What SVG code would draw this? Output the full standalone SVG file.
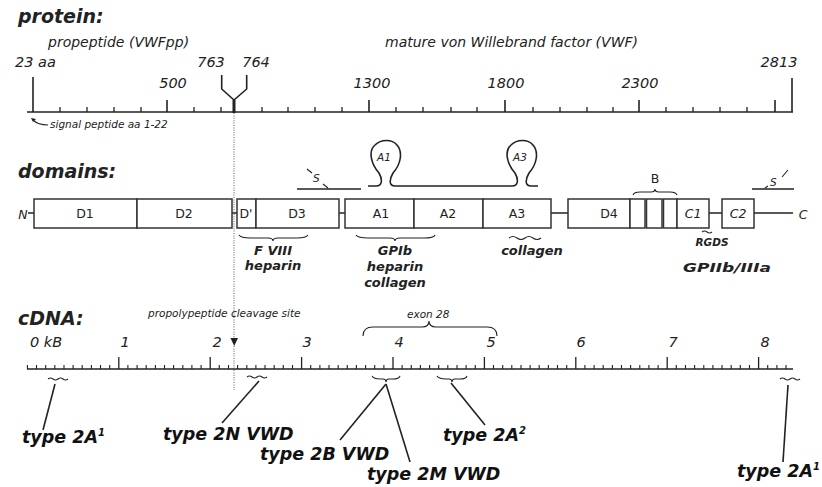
<svg xmlns="http://www.w3.org/2000/svg" width="822" height="487" viewBox="0 0 822 487">
<style>
.bg{fill:#ffffff}
.ln{stroke:#222;stroke-width:1.6;fill:none}
.tk{stroke:#222;stroke-width:1.3;fill:none}
.th{stroke:#222;stroke-width:1.1;fill:none}
.box{fill:#fff;stroke:#333;stroke-width:1.5}
.dot{stroke:#666;stroke-width:1.1;stroke-dasharray:1 1.4;fill:none}
.hd{font-family:"DejaVu Sans",sans-serif;font-weight:bold;font-style:italic;font-size:19px;fill:#222}
.it{font-family:"DejaVu Sans",sans-serif;font-style:italic;font-size:14px;fill:#222}
.num{font-family:"DejaVu Sans",sans-serif;font-style:italic;font-size:14.5px;fill:#222}
.sm{font-family:"DejaVu Sans",sans-serif;font-style:italic;font-size:10.5px;fill:#222}
.bl{font-family:"DejaVu Sans",sans-serif;font-weight:bold;font-style:italic;font-size:13px;fill:#222;text-anchor:middle}
.dm{font-family:"DejaVu Sans",sans-serif;font-size:12.5px;fill:#222;text-anchor:middle}
.dmi{font-family:"DejaVu Sans",sans-serif;font-style:italic;font-size:12.5px;fill:#222;text-anchor:middle}
.ty{font-family:"DejaVu Sans",sans-serif;font-weight:bold;font-style:italic;font-size:17.5px;fill:#111}
.sup{font-size:10px}
</style>
<rect class="bg" x="0" y="0" width="822" height="487"/>

<g id="protein-section">
  <text class="hd" x="18" y="23">protein:</text>
  <text class="it" x="48" y="47">propeptide (VWFpp)</text>
  <text class="it" x="385" y="47">mature von Willebrand factor (VWF)</text>
  <g id="protein-axis">
    <path class="ln" d="M27,112H793"/>
    <path class="ln" d="M33,77V112M792,78V112"/>
    <path class="tk" d="M60,107V112M87,107V112M114,107V112M141,107V112M194,107V112M221,107V112M262,107V112M288,107V112M315,107V112M342,107V112M396,107V112M423,107V112M451,107V112M477,107V112M533,107V112M560,107V112M587,107V112M613,107V112M666,107V112M693,107V112M720,107V112M747,107V112"/>
    <path class="ln" d="M167,100V112M369,100V112M505,100V112M639,100V112M775,100V112"/>
    <path class="ln" d="M221.7,75V89L234,100L246.7,89V75"/>
    <path d="M234,100V113" stroke="#222" stroke-width="3"/>
    <text class="num" x="15" y="67">23 aa</text>
    <text class="num" x="173" y="88" text-anchor="middle">500</text>
    <text class="num" x="372" y="88" text-anchor="middle">1300</text>
    <text class="num" x="506" y="88" text-anchor="middle">1800</text>
    <text class="num" x="640" y="88" text-anchor="middle">2300</text>
    <text class="num" x="779" y="67" text-anchor="middle">2813</text>
    <text class="num" x="211" y="67" text-anchor="middle">763</text>
    <text class="num" x="256" y="67" text-anchor="middle">764</text>
  </g>
  <g id="signal-peptide">
    <path class="th" d="M48,125C42,125 37,124 33,120"/>
    <path d="M31,118L36,119L33,122Z" fill="#222"/>
    <text class="sm" x="50" y="128" font-size="10px">signal peptide aa 1-22</text>
  </g>
</g>

<g id="domains-section">
  <text class="hd" x="18" y="178">domains:</text>
  <g id="backbone">
    <text class="dmi" x="23" y="219" font-size="14px">N</text>
    <path class="ln" d="M28,213H34M232,213H237M339,213H345M551,213H568M709,213H722M754,213H793"/>
    <text class="dmi" x="803" y="219" font-size="14px">C</text>
  </g>
  <g id="D1"><rect class="box" x="34" y="199" width="103" height="29"/><text class="dm" x="85" y="218">D1</text></g>
  <g id="D2"><rect class="box" x="137" y="199" width="95" height="29"/><text class="dm" x="184" y="218">D2</text></g>
  <g id="Dprime"><rect class="box" x="237" y="199" width="19" height="29"/><text class="dm" x="246" y="218">D'</text></g>
  <g id="D3"><rect class="box" x="256" y="199" width="83" height="29"/><text class="dm" x="297" y="218">D3</text></g>
  <g id="A1"><rect class="box" x="345" y="199" width="69" height="29"/><text class="dm" x="381" y="218">A1</text></g>
  <g id="A2"><rect class="box" x="414" y="199" width="69" height="29"/><text class="dm" x="448" y="218">A2</text></g>
  <g id="A3"><rect class="box" x="483" y="199" width="68" height="29"/><text class="dm" x="517" y="218">A3</text></g>
  <g id="D4"><rect class="box" x="568" y="199" width="62" height="29"/><text class="dm" x="609" y="218">D4</text></g>
  <g id="B">
    <rect class="box" x="630" y="199" width="15" height="29"/>
    <rect class="box" x="646.5" y="199" width="15.5" height="29"/>
    <rect class="box" x="663.5" y="199" width="13.5" height="29"/>
    <path class="th" d="M633,195Q634,192 640,192L651,192Q655,192 655,189Q655,192 659,192L670,192Q676,192 677,195"/>
    <text class="dm" x="655" y="183" font-size="13px">B</text>
  </g>
  <g id="C1"><rect class="box" x="677" y="199" width="32" height="29"/><text class="dmi" x="693" y="218">C1</text></g>
  <g id="C2"><rect class="box" x="722" y="199" width="32" height="29"/><text class="dmi" x="738" y="218">C2</text></g>

  <g id="disulfide-left">
    <path class="ln" d="M297,189H361"/>
    <path class="th" d="M307,169L312,173M323,184L328,188"/>
    <text class="sm" x="313" y="182" font-size="11px">S</text>
  </g>
  <g id="disulfide-right">
    <path class="ln" d="M752,189H794"/>
    <path class="th" d="M765,188L768,186M782,177L788,170"/>
    <text class="sm" x="770" y="186" font-size="11px">S</text>
  </g>
  <g id="A1-A3-loops">
    <path class="ln" d="M368,186H376C382,186 383,180 379,173C371,164 368,151 375,145C381,139 392,139 397,145C403,152 401,164 393,173C389,180 389,186 395,186H512C518,186 519,180 515,173C507,164 504,151 511,145C517,139 528,139 533,145C539,152 537,164 529,173C525,180 525,186 531,186H538"/>
    <text class="sm" x="384" y="161" font-size="9px" text-anchor="middle">A1</text>
    <text class="sm" x="520" y="161" font-size="9px" text-anchor="middle">A3</text>
  </g>
  <g id="binding-FVIII">
    <path class="th" d="M239,235Q241,238 250,238L268,238Q273,238 273,241Q273,238 278,238L297,238Q306,238 308,235"/>
    <text class="bl" x="273" y="255">F VIII</text>
    <text class="bl" x="273" y="270">heparin</text>
  </g>
  <g id="binding-GPIb">
    <path class="th" d="M356,235Q358,238 368,238L390,238Q395,238 395,241Q395,238 400,238L424,238Q434,238 435,235"/>
    <text class="bl" x="395" y="255">GPIb</text>
    <text class="bl" x="395" y="271">heparin</text>
    <text class="bl" x="395" y="287">collagen</text>
  </g>
  <g id="binding-collagen">
    <path class="th" d="M509,238q4,-3 8,0t8,0t8,0t8,0"/>
    <text class="bl" x="532" y="255">collagen</text>
  </g>
  <g id="binding-RGDS">
    <path class="th" d="M702,232q2.5,-2 5,0t5,0"/>
    <text class="sm" x="712" y="246" font-size="9.5px" text-anchor="middle" font-weight="bold">RGDS</text>
    <text class="bl" x="727" y="272" textLength="88" lengthAdjust="spacingAndGlyphs">GPIIb/IIIa</text>
  </g>
</g>

<g id="cDNA-section">
  <text class="hd" x="18" y="325">cDNA:</text>
  <text class="sm" x="148" y="317">propolypeptide cleavage site</text>
  <g id="exon28">
    <path class="th" d="M363,336Q363,327 373,327L422,327Q429,327 429,321Q429,327 436,327L487,327Q497,327 497,336"/>
    <text class="sm" x="407" y="318" font-size="11px">exon 28</text>
  </g>
  <g id="cDNA-axis">
    <path class="ln" d="M27,369H793"/>
    <path class="th" d="M27.4,365V369M36.5,365V369M45.7,365V369M54.8,365V369M64,365V369M73.1,365V369M82.2,365V369M91.4,365V369M100.5,365V369M109.7,365V369M127.9,365V369M137.1,365V369M146.2,365V369M155.4,365V369M164.5,365V369M173.6,365V369M182.8,365V369M191.9,365V369M201.1,365V369M219.3,365V369M228.5,365V369M237.6,365V369M246.8,365V369M255.9,365V369M265,365V369M274.2,365V369M283.3,365V369M292.5,365V369M310.7,365V369M319.9,365V369M329,365V369M338.2,365V369M347.3,365V369M356.4,365V369M365.6,365V369M374.7,365V369M383.9,365V369M402.1,365V369M411.3,365V369M420.4,365V369M429.6,365V369M438.7,365V369M447.8,365V369M457,365V369M466.1,365V369M475.3,365V369M493.5,365V369M502.7,365V369M511.8,365V369M521,365V369M530.1,365V369M539.2,365V369M548.4,365V369M557.5,365V369M566.7,365V369M584.9,365V369M594.1,365V369M603.2,365V369M612.4,365V369M621.5,365V369M630.6,365V369M639.8,365V369M648.9,365V369M658.1,365V369M676.3,365V369M685.5,365V369M694.6,365V369M703.8,365V369M712.9,365V369M722,365V369M731.2,365V369M740.3,365V369M749.5,365V369M767.7,365V369M776.9,365V369M786,365V369"/>
    <path class="tk" d="M118.8,357V369M210.2,357V369M301.6,357V369M393,357V369M484.4,357V369M575.8,357V369M667.2,357V369M758.6,357V369"/>
    <text class="num" x="30" y="347">0 kB</text>
    <text class="num" x="125" y="347" text-anchor="middle">1</text>
    <text class="num" x="217" y="347" text-anchor="middle">2</text>
    <text class="num" x="307" y="347" text-anchor="middle">3</text>
    <text class="num" x="399" y="347" text-anchor="middle">4</text>
    <text class="num" x="491" y="347" text-anchor="middle">5</text>
    <text class="num" x="581" y="347" text-anchor="middle">6</text>
    <text class="num" x="673" y="347" text-anchor="middle">7</text>
    <text class="num" x="765" y="347" text-anchor="middle">8</text>
  </g>
  <g id="mutation-marks">
    <path class="th" d="M48,379q2.5,-2 5,0t5,0t5,0t5,0"/>
    <path class="th" d="M247,377q2.5,-2 5,0t5,0t5,0t5,0"/>
    <path class="th" d="M372,376Q374,379 380,379L383,379Q386,379 386,382Q386,379 389,379L393,379Q399,379 400,376"/>
    <path class="th" d="M437,376Q439,379 446,379L449,379Q452,379 452,382Q452,379 455,379L460,379Q466,379 467,376"/>
    <path class="th" d="M780,379q2.5,-2 5,0t5,0t5,0t5,0"/>
  </g>
  <g id="type2A1-left"><text class="ty" x="22" y="443">type 2A<tspan class="sup" dy="-7">1</tspan></text></g>
  <g id="type2N"><text class="ty" x="163" y="440">type 2N VWD</text></g>
  <g id="type2B"><text class="ty" x="260" y="460">type 2B VWD</text></g>
  <g id="type2M"><text class="ty" x="367" y="480">type 2M VWD</text></g>
  <g id="type2A2"><text class="ty" x="443" y="441">type 2A<tspan class="sup" dy="-7">2</tspan></text></g>
  <g id="type2A1-right"><text class="ty" x="737" y="477">type 2A<tspan class="sup" dy="-7">1</tspan></text></g>
</g>

<g id="connectors">
  <path class="dot" d="M234,113V338"/>
  <path d="M230.5,338H238L234.2,346Z" fill="#222"/>
  <path class="dot" d="M234,346V390"/>
  <path class="ln" d="M55,384L43,430"/>
  <path class="ln" d="M259,381L222,423"/>
  <path class="ln" d="M386,384L340,440"/>
  <path class="ln" d="M386,384L410,462"/>
  <path class="ln" d="M451,383L485,425"/>
  <path class="ln" d="M788,385L783,462"/>
</g>
</svg>
